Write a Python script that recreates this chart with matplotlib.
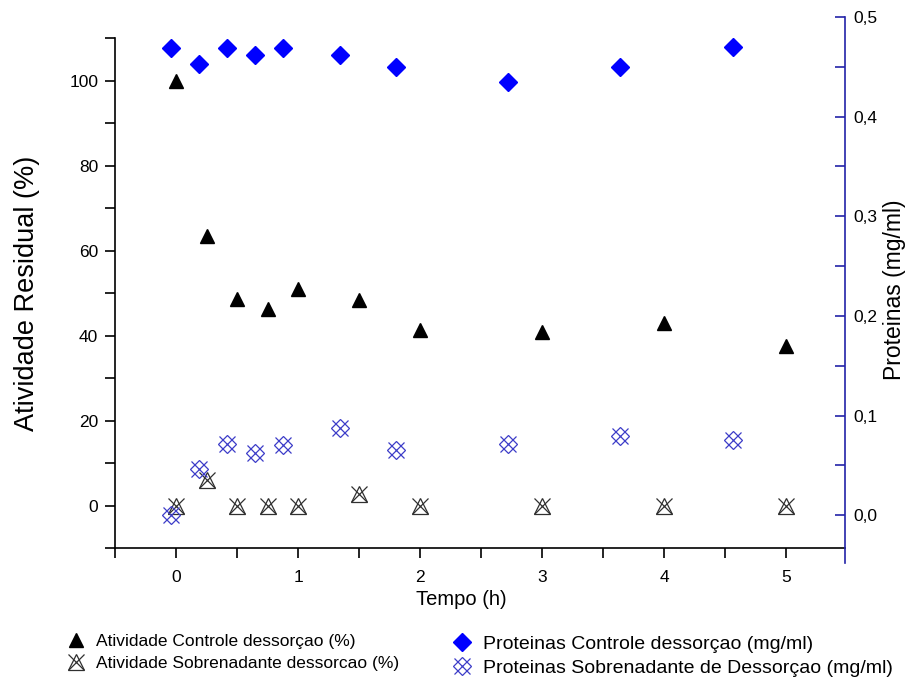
import matplotlib
matplotlib.use('Agg')
import matplotlib.pyplot as plt
from matplotlib.ticker import MultipleLocator, FuncFormatter
from matplotlib.lines import Line2D
from matplotlib.legend_handler import HandlerTuple

#************************DATA************************
tempo = [0, 0.25, 0.5, 0.75, 1, 1.5, 2, 3, 4, 5]
atividadeControle = [100, 63.5, 48.7, 46.3, 50.9, 48.4, 41.3, 40.8, 42.9, 37.6]
atividadeSobrenadante = [0, 6, 0, 0, 0, 2.8, 0, 0, 0, 0]
proteinasControle = [0.469, 0.453, 0.469, 0.462, 0.469, 0.462, 0.450, 0.435, 0.450, 0.470]
proteinasSobrenadante = [0.0, 0.046, 0.071, 0.062, 0.070, 0.088, 0.065, 0.071, 0.079, 0.075]

labelAtivControle = 'Atividade Controle dessorçao (%)'
labelAtivSobren = 'Atividade Sobrenadante dessorcao (%)'
labelProtControle = 'Proteinas Controle dessorçao (mg/ml)'
labelProtSobren = 'Proteinas Sobrenadante de Dessorçao (mg/ml)'

#************************STYLE************************
blueAxis = '#2323a8'
blueCross = '#3c3cc8'
blueFill = '#0000ff'
greyCross = '#303030'
spineWidth = 1.2

plt.rcParams['font.family'] = ['Liberation Sans', 'DejaVu Sans']

fig = plt.figure(figsize=(9.11, 6.79), dpi=100)
ax1 = fig.add_axes([0.1262, 0.1929, 0.8014, 0.7511])
ax2 = fig.add_axes([0.1262, 0.1708, 0.8014, 0.8041])
ax2.patch.set_alpha(0)

#ax1 (atividade)
ax1.set_xlim(-0.5, 5.48)
ax1.set_ylim(-10, 110)
for s in ['top', 'right']:
	ax1.spines[s].set_visible(False)
for s in ['left', 'bottom']:
	ax1.spines[s].set_linewidth(spineWidth)
ax1.xaxis.set_major_locator(MultipleLocator(1))
ax1.xaxis.set_minor_locator(MultipleLocator(0.5))
ax1.yaxis.set_major_locator(MultipleLocator(20))
ax1.yaxis.set_minor_locator(MultipleLocator(10))
ax1.tick_params(which='both', direction='out', length=7, width=spineWidth, labelsize=12.5)
ax1.tick_params(axis='y', pad=5)
ax1.tick_params(axis='x', pad=8.5)
ax1.set_xlabel('Tempo (h)', fontsize=14.5)
ax1.xaxis.set_label_coords(0.475, -0.082)
ax1.set_ylabel('Atividade Residual (%)', fontsize=19.5, labelpad=21)

ax1.plot(tempo, atividadeControle, ls='none', marker='^', color='black', ms=10)
ax1.plot(tempo, atividadeSobrenadante, ls='none', marker='^', mfc='none', mec=greyCross, ms=12, mew=0.9)
ax1.plot(tempo, atividadeSobrenadante, ls='none', marker='x', color=greyCross, ms=12, mew=0.9)

#ax2 (proteinas)
ax2.set_xlim(-0.5, 6.0)
ax2.set_ylim(-0.048, 0.5)
for s in ['top', 'left', 'bottom']:
	ax2.spines[s].set_visible(False)
ax2.spines['right'].set_color(blueAxis)
ax2.spines['right'].set_linewidth(spineWidth)
ax2.xaxis.set_visible(False)
ax2.yaxis.tick_right()
ax2.yaxis.set_label_position('right')
ax2.yaxis.set_major_locator(MultipleLocator(0.1))
ax2.yaxis.set_minor_locator(MultipleLocator(0.05))
ax2.yaxis.set_major_formatter(FuncFormatter(lambda v, p: '{:.1f}'.format(v).replace('.', ',')))
ax2.tick_params(which='both', direction='in', length=7, width=spineWidth, color=blueAxis, labelsize=12.5, pad=6)
ax2.set_ylabel('Proteinas (mg/ml)', fontsize=16.5, labelpad=4)

ax2.plot(tempo, proteinasControle, ls='none', marker='D', color=blueFill, ms=9)
ax2.plot(tempo, proteinasSobrenadante, ls='none', marker='D', mfc='none', mec=blueCross, ms=9, mew=0.9)
ax2.plot(tempo, proteinasSobrenadante, ls='none', marker='x', color=blueCross, ms=12, mew=0.9)

#************************LEGENDS************************
hTri = Line2D([], [], ls='none', marker='^', color='black', ms=10)
hTriX = (Line2D([], [], ls='none', marker='^', mfc='none', mec=greyCross, ms=12, mew=0.9),
	Line2D([], [], ls='none', marker='x', color=greyCross, ms=12, mew=0.9))
hDia = Line2D([], [], ls='none', marker='D', color=blueFill, ms=9)
hDiaX = (Line2D([], [], ls='none', marker='D', mfc='none', mec=blueCross, ms=9, mew=0.9),
	Line2D([], [], ls='none', marker='x', color=blueCross, ms=12, mew=0.9))

legendProps = dict(loc='upper left', frameon=False, handlelength=1.0,
	borderpad=0, borderaxespad=0, handler_map={tuple: HandlerTuple(ndivide=1)})
fig.legend([hTri, hTriX], [labelAtivControle, labelAtivSobren], bbox_to_anchor=(0.0739, 0.066),
	fontsize=12.5, handletextpad=0.65, labelspacing=0.36, **legendProps)
fig.legend([hDia, hDiaX], [labelProtControle, labelProtSobren], bbox_to_anchor=(0.496, 0.0645),
	fontsize=14, handletextpad=0.6, labelspacing=0.33, **legendProps)

fig.savefig('out.png', dpi=100)
